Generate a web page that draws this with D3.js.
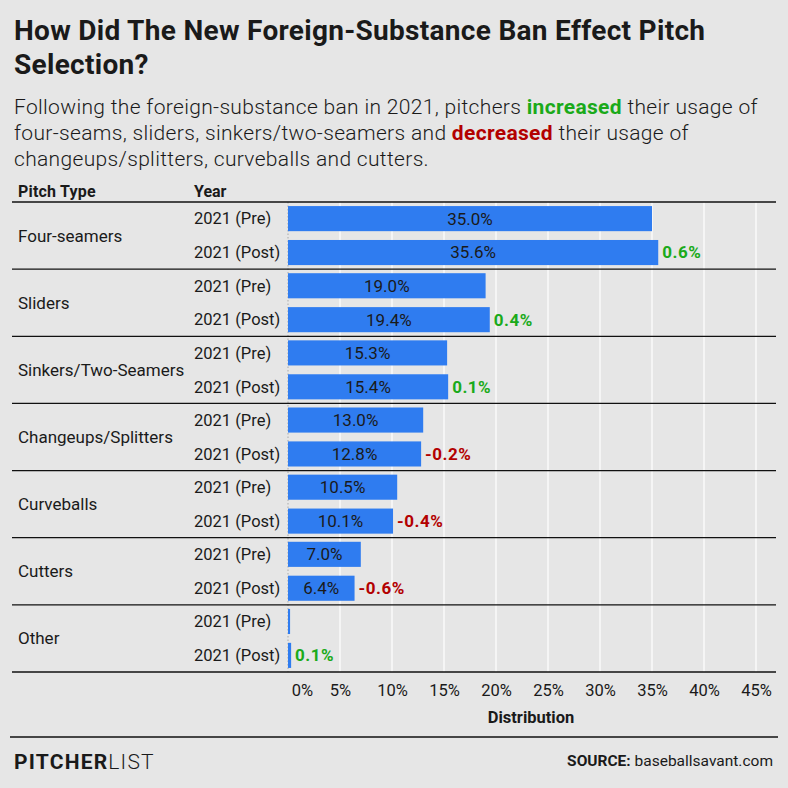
<!DOCTYPE html>
<html>
<head>
<meta charset="utf-8">
<script src="https://cdn.jsdelivr.net/npm/d3@7"></script>
<style>
  body { margin: 0; background: #e6e6e6; }
  svg { display: block; font-family: Roboto, "Open Sans", sans-serif; }
</style>
</head>
<body>
<svg id="chart"></svg>
<script>
// data
const pitchTypes = ['Four-seamers', 'Sliders', 'Sinkers/Two-Seamers', 'Changeups/Splitters', 'Curveballs', 'Cutters', 'Other'];
const years = ['2021 (Pre)', '2021 (Post)'];
const preValues = [35.0, 19.0, 15.3, 13.0, 10.5, 7.0, 0.2];
const postValues = [35.6, 19.4, 15.4, 12.8, 10.1, 6.4, 0.3];
const changeValues = [0.6, 0.4, 0.1, -0.2, -0.4, -0.6, 0.1];
const tickValues = [0, 5, 10, 15, 20, 25, 30, 35, 40, 45];

const width = 788;
const height = 788;
const tableTop = 202, tableBottom = 672;

const colors = {bar: '#2f7cf0', text: '#1a1a1a', up: '#1aaa1a', down: '#b30000'};

const svg = d3.select('#chart')
  .attr('width', width)
  .attr('height', height)

svg.append('rect').attr('width', width).attr('height', height).attr('fill', '#e6e6e6')

// scales
const x = d3.scaleLinear().domain([0, 45]).range([288, 756])
const yGroup = d3.scaleBand().domain(pitchTypes).range([tableTop, tableBottom])
const yYear = d3.scaleBand().domain(years).range([0, yGroup.bandwidth()]).paddingInner(0.26).paddingOuter(0.12)

// title + subtitle
const title = svg.append('text').attr('x', 14).attr('font-size', 28).attr('letter-spacing', 0.3).attr('font-weight', 700).attr('fill', colors.text)
title.append('tspan').attr('x', 14).attr('y', 40).text('How Did The New Foreign-Substance Ban Effect Pitch')
title.append('tspan').attr('x', 14).attr('y', 74).text('Selection?')

const sub = svg.append('text').attr('font-size', 21).attr('letter-spacing', 0.33).attr('font-weight', 300).attr('fill', '#1a1a1a')
const l1 = sub.append('tspan').attr('x', 14).attr('y', 114)
l1.append('tspan').text('Following the foreign-substance ban in 2021, pitchers ')
l1.append('tspan').attr('fill', colors.up).attr('font-weight', 700).text('increased')
l1.append('tspan').text(' their usage of')
const l2 = sub.append('tspan').attr('x', 14).attr('y', 140)
l2.append('tspan').text('four-seams, sliders, sinkers/two-seamers and ')
l2.append('tspan').attr('fill', colors.down).attr('font-weight', 700).text('decreased')
l2.append('tspan').text(' their usage of')
sub.append('tspan').attr('x', 14).attr('y', 166).text('changeups/splitters, curveballs and cutters.')

// column headers
svg.append('text').attr('x', 18).attr('y', 197).attr('font-size', 16).attr('font-weight', 700).attr('letter-spacing', 0.2).attr('fill', colors.text).text('Pitch Type')
svg.append('text').attr('x', 194).attr('y', 197).attr('font-size', 16).attr('font-weight', 700).attr('fill', colors.text).text('Year')

// gridlines
svg.append('g')
  .selectAll('line')
  .data(tickValues.slice(1))
  .enter()
  .append('line')
  .attr('x1', d => x(d)).attr('x2', d => x(d))
  .attr('y1', tableTop).attr('y2', tableBottom)
  .attr('stroke', '#fff').attr('stroke-width', 1.2)

svg.append('line')
  .attr('x1', x(0)).attr('x2', x(0))
  .attr('y1', tableTop).attr('y2', tableBottom)
  .attr('stroke', '#aaa').attr('stroke-dasharray', '1.5,2')

// rows
const rows = [];
pitchTypes.forEach((p, i) => {
  rows.push({type: p, year: years[0], value: preValues[i], change: null})
  rows.push({type: p, year: years[1], value: postValues[i], change: changeValues[i]})
})
const rowY = d => yGroup(d.type) + yYear(d.year)

svg.append('g')
  .selectAll('rect')
  .data(rows)
  .enter()
  .append('rect')
  .attr('x', x(0))
  .attr('y', rowY)
  .attr('width', d => x(d.value) - x(0))
  .attr('height', yYear.bandwidth())
  .attr('fill', colors.bar)

// value labels inside bars
svg.append('g')
  .selectAll('text')
  .data(rows.filter(d => x(d.value) - x(0) > 50))
  .enter()
  .append('text')
  .attr('x', d => (x(0) + x(d.value)) / 2)
  .attr('y', d => rowY(d) + yYear.bandwidth() / 2)
  .attr('dy', '0.35em')
  .attr('text-anchor', 'middle')
  .attr('font-size', 17)
  .attr('fill', colors.text)
  .text(d => d.value.toFixed(1) + '%')

// change labels
svg.append('g')
  .selectAll('text')
  .data(rows.filter(d => d.change !== null))
  .enter()
  .append('text')
  .attr('x', d => x(d.value) + 4)
  .attr('y', d => rowY(d) + yYear.bandwidth() / 2)
  .attr('dy', '0.35em')
  .attr('font-size', 17)
  .attr('letter-spacing', 0.5)
  .attr('font-weight', 700)
  .attr('fill', d => d.change >= 0 ? colors.up : colors.down)
  .text(d => d.change.toFixed(1) + '%')

// year labels
svg.append('g')
  .selectAll('text')
  .data(rows)
  .enter()
  .append('text')
  .attr('x', 194)
  .attr('y', d => rowY(d) + yYear.bandwidth() / 2)
  .attr('dy', '0.35em')
  .attr('font-size', 16.5)
  .attr('fill', colors.text)
  .text(d => d.year)

// pitch type labels
svg.append('g')
  .selectAll('text')
  .data(pitchTypes)
  .enter()
  .append('text')
  .attr('x', 18)
  .attr('y', d => yGroup(d) + yGroup.bandwidth() / 2)
  .attr('dy', '0.35em')
  .attr('font-size', 17)
  .attr('fill', colors.text)
  .text(d => d)

// group separators
svg.append('g')
  .selectAll('line')
  .data(pitchTypes.map(p => yGroup(p)).concat([tableBottom]))
  .enter()
  .append('line')
  .attr('x1', 12).attr('x2', 776)
  .attr('y1', d => d).attr('y2', d => d)
  .attr('stroke', '#111').attr('stroke-width', 1.3)

// x axis
const xAxis = d3.axisBottom(x)
  .tickValues(tickValues)
  .tickFormat(d => d + '%')
  .tickSize(0)
  .tickPadding(12)

const axisG = svg.append('g')
  .attr('transform', `translate(0,${tableBottom})`)
  .call(xAxis)
axisG.select('.domain').remove()
axisG.selectAll('text')
  .attr('font-size', 16.5)
  .attr('font-family', 'Roboto, sans-serif')
  .attr('fill', colors.text)
  .attr('dx', d => d === 0 ? 14 : 0)

svg.append('text')
  .attr('x', 531).attr('y', 723)
  .attr('text-anchor', 'middle')
  .attr('font-size', 16.5).attr('font-weight', 700).attr('fill', colors.text)
  .text('Distribution')

// footer
svg.append('line')
  .attr('x1', 10).attr('x2', 778)
  .attr('y1', 737).attr('y2', 737)
  .attr('stroke', '#111').attr('stroke-width', 1.3)

const logo = svg.append('text').attr('x', 14).attr('y', 769).attr('font-size', 21).attr('letter-spacing', 1.2).attr('fill', '#1a1a1a')
logo.append('tspan').attr('font-weight', 700).text('PITCHER')
logo.append('tspan').attr('font-weight', 300).text('LIST')

const source = svg.append('text').attr('x', 773).attr('y', 766).attr('text-anchor', 'end').attr('font-size', 15.5).attr('fill', colors.text)
source.append('tspan').attr('font-weight', 700).text('SOURCE: ')
source.append('tspan').text('baseballsavant.com')
</script>
</body>
</html>
